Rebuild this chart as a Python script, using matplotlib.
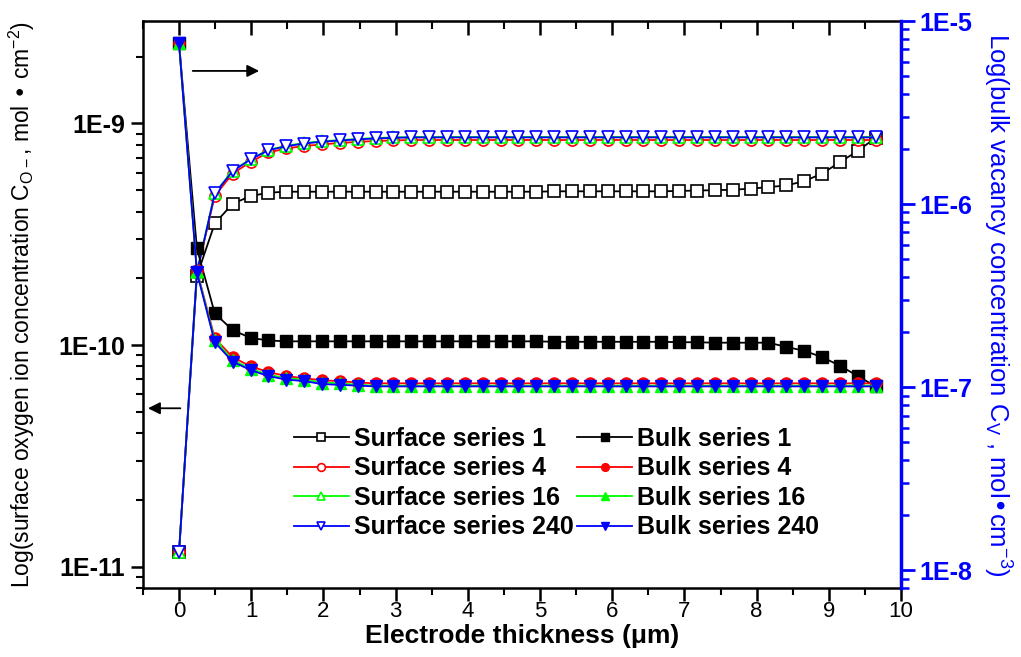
import numpy as np
import matplotlib
matplotlib.use('Agg')
import matplotlib.pyplot as plt
from matplotlib.ticker import FixedLocator, LogLocator, MultipleLocator, FuncFormatter, NullFormatter

plt.rcParams['font.family'] = ['Liberation Sans', 'DejaVu Sans']
plt.rcParams['mathtext.default'] = 'regular'

# electrode position (um)
x = [0.000, 0.247, 0.495, 0.742, 0.990, 1.237, 1.485, 1.732, 1.979, 2.227,
     2.474, 2.722, 2.969, 3.216, 3.464, 3.711, 3.959, 4.206, 4.453, 4.701,
     4.948, 5.196, 5.443, 5.690, 5.938, 6.185, 6.433, 6.680, 6.927, 7.175,
     7.422, 7.670, 7.917, 8.164, 8.412, 8.659, 8.907, 9.154, 9.401, 9.649]

# surface oxygen ion concentration, x 1e-10 mol/cm2 (left axis)
surf_1 = [0.116, 2.05, 3.54, 4.34, 4.70, 4.87, 4.92, 4.92, 4.92, 4.92,
          4.92, 4.92, 4.92, 4.92, 4.92, 4.92, 4.92, 4.92, 4.92, 4.92,
          4.92, 4.94, 4.94, 4.94, 4.94, 4.94, 4.94, 4.94, 4.96, 4.98,
          5.00, 5.02, 5.08, 5.16, 5.25, 5.49, 5.94, 6.69, 7.52, 8.62]
surf_4 = [0.116, 2.12, 4.71, 5.94, 6.70, 7.40, 7.71, 7.91, 8.04, 8.17,
          8.25, 8.34, 8.38, 8.42, 8.42, 8.42, 8.42, 8.42, 8.42, 8.42,
          8.42, 8.42, 8.42, 8.42, 8.42, 8.42, 8.42, 8.42, 8.42, 8.42,
          8.42, 8.42, 8.42, 8.42, 8.42, 8.42, 8.42, 8.42, 8.42, 8.42]
surf_16 = [0.116, 2.13, 4.86, 6.12, 6.91, 7.60, 7.93, 8.16, 8.31, 8.42,
           8.51, 8.60, 8.65, 8.69, 8.69, 8.69, 8.69, 8.69, 8.69, 8.69,
           8.69, 8.69, 8.69, 8.69, 8.69, 8.69, 8.69, 8.69, 8.69, 8.69,
           8.69, 8.69, 8.69, 8.69, 8.69, 8.69, 8.69, 8.69, 8.69, 8.69]
surf_240 = [0.116, 2.12, 4.83, 6.09, 6.88, 7.57, 7.89, 8.12, 8.27, 8.38,
            8.47, 8.56, 8.61, 8.65, 8.65, 8.65, 8.65, 8.65, 8.65, 8.65,
            8.65, 8.65, 8.65, 8.65, 8.65, 8.65, 8.65, 8.65, 8.65, 8.65,
            8.65, 8.65, 8.65, 8.65, 8.65, 8.65, 8.65, 8.65, 8.65, 8.65]

# bulk vacancy concentration, x 1e-7 mol/cm3 (right axis)
bulk_1 = [75.5, 5.74, 2.53, 2.05, 1.86, 1.80, 1.78, 1.78, 1.78, 1.78,
          1.78, 1.78, 1.78, 1.78, 1.78, 1.78, 1.78, 1.78, 1.78, 1.78,
          1.78, 1.77, 1.77, 1.77, 1.77, 1.77, 1.77, 1.77, 1.76, 1.76,
          1.75, 1.75, 1.75, 1.75, 1.66, 1.58, 1.46, 1.31, 1.15, 1.01]
bulk_4 = [75.5, 4.35, 1.85, 1.46, 1.30, 1.21, 1.15, 1.12, 1.09, 1.08,
          1.06, 1.05, 1.05, 1.05, 1.05, 1.05, 1.05, 1.05, 1.05, 1.05,
          1.05, 1.05, 1.05, 1.05, 1.05, 1.05, 1.05, 1.05, 1.05, 1.05,
          1.05, 1.05, 1.05, 1.05, 1.05, 1.05, 1.05, 1.05, 1.05, 1.05]
bulk_16 = [75.5, 4.30, 1.80, 1.41, 1.26, 1.17, 1.12, 1.10, 1.06, 1.05,
           1.03, 1.02, 1.02, 1.02, 1.02, 1.02, 1.02, 1.02, 1.02, 1.02,
           1.02, 1.02, 1.02, 1.02, 1.02, 1.02, 1.02, 1.02, 1.02, 1.02,
           1.02, 1.02, 1.02, 1.02, 1.02, 1.02, 1.02, 1.02, 1.02, 1.02]
bulk_240 = [75.5, 4.25, 1.76, 1.38, 1.24, 1.15, 1.10, 1.08, 1.04, 1.03,
            1.02, 1.01, 1.01, 1.01, 1.01, 1.01, 1.01, 1.01, 1.01, 1.01,
            1.01, 1.01, 1.01, 1.01, 1.01, 1.01, 1.01, 1.01, 1.01, 1.01,
            1.01, 1.01, 1.01, 1.01, 1.01, 1.01, 1.01, 1.01, 1.01, 1.01]

series = ['1', '4', '16', '240']
colors = ['black', '#ff0000', '#00ff00', '#0000ff']
markers = ['s', 'o', '^', 'v']
surf = [surf_1, surf_4, surf_16, surf_240]
bulk = [bulk_1, bulk_4, bulk_16, bulk_240]

fig = plt.figure(figsize=(10.21, 6.57), dpi=100)
fig.subplots_adjust(left=0.140, right=0.8825, bottom=0.105, top=0.968)
ax = fig.add_subplot(111)
ax2 = ax.twinx()

s_handles = []
b_handles = []
for name, c, m, s, b in zip(series, colors, markers, surf, bulk):
    h, = ax.plot(x, np.array(s) * 1e-10, color=c, lw=1.3, marker=m, ms=8,
                 mfc='white', mec=c, mew=1.2, label='Surface series ' + name)
    s_handles.append(h)
    h, = ax2.plot(x, np.array(b) * 1e-7, color=c, lw=1.3, marker=m, ms=8,
                  mfc=c, mec=c, label='Bulk series ' + name)
    b_handles.append(h)

fmt = FuncFormatter(lambda v, p: '1E%d' % round(np.log10(v)))

ax.set_xlim(-0.5, 10)
ax.set_yscale('log')
ax.set_ylim(8e-12, 2.9e-9)
ax.yaxis.set_major_locator(FixedLocator([1e-11, 1e-10, 1e-9]))
ax.yaxis.set_minor_locator(LogLocator(base=10, subs=range(2, 10)))
ax.yaxis.set_major_formatter(fmt)
ax.yaxis.set_minor_formatter(NullFormatter())
ax.xaxis.set_major_locator(MultipleLocator(1))
ax.xaxis.set_minor_locator(MultipleLocator(0.5))
ax.tick_params(axis='both', which='major', direction='out', length=9, width=1.8)
ax.tick_params(axis='both', which='minor', direction='out', length=5, width=1.5)
ax.tick_params(axis='x', labelsize=16, pad=0)
ax.tick_params(axis='y', labelsize=18, pad=4)
for lab in ax.get_yticklabels():
    lab.set_fontweight('bold')

top = ax.secondary_xaxis('top')
top.xaxis.set_major_locator(MultipleLocator(1))
top.xaxis.set_minor_locator(MultipleLocator(0.5))
top.tick_params(which='major', direction='in', length=10, width=1.8, labeltop=False)
top.tick_params(which='minor', direction='in', length=6, width=1.5)
top.spines['top'].set_linewidth(1.8)

ax2.set_yscale('log')
ax2.set_ylim(8e-9, 1e-5)
ax2.yaxis.set_major_locator(FixedLocator([1e-8, 1e-7, 1e-6, 1e-5]))
ax2.yaxis.set_minor_locator(LogLocator(base=10, subs=range(2, 10)))
ax2.yaxis.set_major_formatter(fmt)
ax2.yaxis.set_minor_formatter(NullFormatter())
ax2.tick_params(axis='y', which='major', direction='out', length=10, width=2,
                colors='#0000ff', labelsize=18, pad=3)
ax2.tick_params(axis='y', which='minor', direction='out', length=6, width=1.8,
                colors='#0000ff')
for lab in ax2.get_yticklabels():
    lab.set_fontweight('bold')

for sp in ['left', 'bottom']:
    ax.spines[sp].set_linewidth(1.8)
ax2.spines['right'].set_color('#0000ff')
ax2.spines['right'].set_linewidth(2.5)
ax.spines['right'].set_visible(False)
ax2.spines['left'].set_visible(False)
ax2.spines['top'].set_visible(False)
ax2.spines['bottom'].set_visible(False)

ax.set_xlabel('Electrode thickness (\u03bcm)', fontsize=19, fontweight='bold', va='center')
ax.xaxis.set_label_coords(0.5, -0.085)
ax.set_ylabel('Log(surface oxygen ion concentration C$_{O-}$, mol \u2022 cm$^{-2}$)',
              fontsize=16.5, va='center')
ax.yaxis.set_label_coords(-0.16, 0.5)
ax2.set_ylabel('Log(bulk vacancy concentration C$_V$ , mol\u2022cm$^{-3}$)',
               fontsize=18.5, color='#0000ff', rotation=270, va='center')
ax2.yaxis.set_label_coords(1.127, 0.5)

# arrows pointing to the axis each group belongs to
ax2.annotate('', xy=(0.157, 0.912), xytext=(0.062, 0.912), xycoords='axes fraction',
             arrowprops=dict(arrowstyle='-|>', color='black', lw=1.3, mutation_scale=18))
ax2.annotate('', xy=(0.003, 0.317), xytext=(0.053, 0.317), xycoords='axes fraction',
             arrowprops=dict(arrowstyle='-|>', color='black', lw=1.3, mutation_scale=18))

ax2.legend(s_handles + b_handles, [h.get_label() for h in s_handles + b_handles],
           ncol=2, loc='upper left', bbox_to_anchor=(0.199, 0.284), frameon=False,
           prop={'weight': 'bold', 'size': 18}, handlelength=2.2, handletextpad=0.2,
           columnspacing=0.15, labelspacing=0.22, markerscale=0.7, borderpad=0,
           borderaxespad=0)

fig.savefig('out.png', dpi=100)
